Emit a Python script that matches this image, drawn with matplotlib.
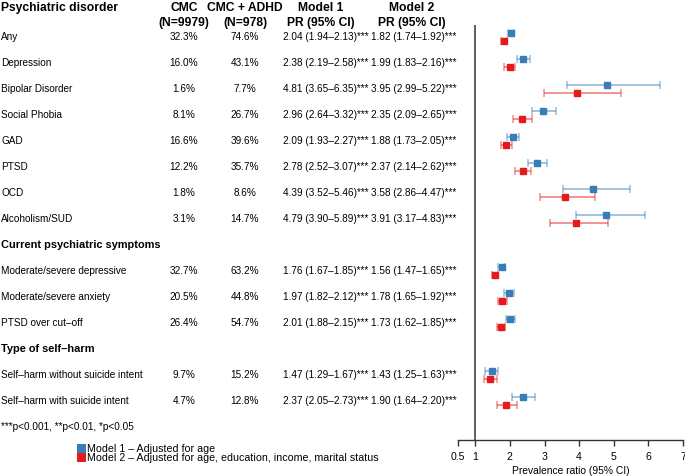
import matplotlib.pyplot as plt
import matplotlib.transforms as mtransforms
from matplotlib.patches import Rectangle

plt.rcParams['font.family'] = ['Liberation Sans', 'DejaVu Sans']

# sections of the table: header, then rows
sec1_title = "Psychiatric disorder"
sec1_labels = ["Any", "Depression", "Bipolar Disorder", "Social Phobia", "GAD", "PTSD", "OCD", "Alcoholism/SUD"]
sec1_cmc = ["32.3%", "16.0%", "1.6%", "8.1%", "16.6%", "12.2%", "1.8%", "3.1%"]
sec1_adhd = ["74.6%", "43.1%", "7.7%", "26.7%", "39.6%", "35.7%", "8.6%", "14.7%"]
sec1_m1 = [(2.04, 1.94, 2.13), (2.38, 2.19, 2.58), (4.81, 3.65, 6.35), (2.96, 2.64, 3.32),
           (2.09, 1.93, 2.27), (2.78, 2.52, 3.07), (4.39, 3.52, 5.46), (4.79, 3.90, 5.89)]
sec1_m2 = [(1.82, 1.74, 1.92), (1.99, 1.83, 2.16), (3.95, 2.99, 5.22), (2.35, 2.09, 2.65),
           (1.88, 1.73, 2.05), (2.37, 2.14, 2.62), (3.58, 2.86, 4.47), (3.91, 3.17, 4.83)]

sec2_title = "Current psychiatric symptoms"
sec2_labels = ["Moderate/severe depressive", "Moderate/severe anxiety", "PTSD over cut\u2013off"]
sec2_cmc = ["32.7%", "20.5%", "26.4%"]
sec2_adhd = ["63.2%", "44.8%", "54.7%"]
sec2_m1 = [(1.76, 1.67, 1.85), (1.97, 1.82, 2.12), (2.01, 1.88, 2.15)]
sec2_m2 = [(1.56, 1.47, 1.65), (1.78, 1.65, 1.92), (1.73, 1.62, 1.85)]

sec3_title = "Type of self\u2013harm"
sec3_labels = ["Self\u2013harm without suicide intent", "Self\u2013harm with suicide intent"]
sec3_cmc = ["9.7%", "4.7%"]
sec3_adhd = ["15.2%", "12.8%"]
sec3_m1 = [(1.47, 1.29, 1.67), (2.37, 2.05, 2.73)]
sec3_m2 = [(1.43, 1.25, 1.63), (1.90, 1.64, 2.20)]

xticks = [0.5, 1, 2, 3, 4, 5, 6, 7]
xticklabels = ["0.5", "1", "2", "3", "4", "5", "6", "7"]

blue = '#377EB8'
red = '#E41A1C'
W, H = 685, 476
fs = 7.2
fh = 8.7

fig = plt.figure(figsize=(W / 100, H / 100), dpi=100)
ax = fig.add_axes([458 / W, (H - 440) / H, 225 / W, 440 / H])
row0, step = 37, 26.0
ax.set_ylim((440 - row0) / step, -row0 / step)
ax.set_xlim(0.5, 7)

tr = mtransforms.blended_transform_factory(fig.transFigure, ax.transData)
def px(x):
    return x / W

x_lab, x_cmc, x_adhd, x_m1, x_m2 = 1, 184, 245, 283, 371

# column headers
yh1, yh2 = (8 - row0) / step, (23 - row0) / step
hdr = dict(transform=tr, va='center', fontsize=fh, fontweight='bold')
ax.text(px(x_lab), yh1, sec1_title, ha='left', **hdr)
ax.text(px(x_cmc), yh1, "CMC", ha='center', **hdr)
ax.text(px(x_cmc), yh2, "(N=9979)", ha='center', **hdr)
ax.text(px(x_adhd), yh1, "CMC + ADHD", ha='center', **hdr)
ax.text(px(x_adhd), yh2, "(N=978)", ha='center', **hdr)
ax.text(px(321), yh1, "Model 1", ha='center', **hdr)
ax.text(px(321), yh2, "PR (95% CI)", ha='center', **hdr)
ax.text(px(412), yh1, "Model 2", ha='center', **hdr)
ax.text(px(412), yh2, "PR (95% CI)", ha='center', **hdr)

sections = [
    (None, sec1_labels, sec1_cmc, sec1_adhd, sec1_m1, sec1_m2),
    (sec2_title, sec2_labels, sec2_cmc, sec2_adhd, sec2_m1, sec2_m2),
    (sec3_title, sec3_labels, sec3_cmc, sec3_adhd, sec3_m1, sec3_m2),
]

def ci_text(v):
    return f"{v[0]:.2f} ({v[1]:.2f}\u2013{v[2]:.2f})***"

r = 0
for title, labels, cmc, adhd, m1, m2 in sections:
    if title is not None:
        ax.text(px(x_lab), r, title, transform=tr, ha='left', va='center', fontsize=7.9, fontweight='bold')
        r += 1
    for i in range(len(labels)):
        ax.text(px(x_lab), r, labels[i], transform=tr, ha='left', va='center', fontsize=fs)
        ax.text(px(x_cmc), r, cmc[i], transform=tr, ha='center', va='center', fontsize=fs)
        ax.text(px(x_adhd), r, adhd[i], transform=tr, ha='center', va='center', fontsize=fs)
        ax.text(px(x_m1), r, ci_text(m1[i]), transform=tr, ha='left', va='center', fontsize=fs)
        ax.text(px(x_m2), r, ci_text(m2[i]), transform=tr, ha='left', va='center', fontsize=fs)
        for v, dy, c in [(m1[i], -0.16, blue), (m2[i], 0.16, red)]:
            ax.errorbar(v[0], r + dy, xerr=[[v[0] - v[1]], [v[2] - v[0]]], fmt='none',
                        ecolor=c, alpha=0.5, elinewidth=1.3, capsize=2.6, capthick=1.1)
            ax.plot(v[0], r + dy, 's', color=c, ms=4.8, mec=c)
        r += 1

# footnote
ax.text(px(x_lab), r, "***p<0.001, **p<0.01, *p<0.05", transform=tr, ha='left', va='center', fontsize=fs)

# reference line at 1
ax.vlines(1, (25 - row0) / step, (440 - row0) / step, color='#333333', lw=1.1)

for s in ['top', 'right', 'left']:
    ax.spines[s].set_visible(False)
ax.spines['bottom'].set_color('#333333')
ax.spines['bottom'].set_linewidth(1.0)
ax.set_yticks([])
ax.set_xticks(xticks)
ax.set_xticklabels(xticklabels, fontsize=7.6)
ax.tick_params(axis='x', direction='out', length=4, width=1.0, color='#333333', pad=5)
ax.set_xlabel("Prevalence ratio (95% CI)", fontsize=7.4, labelpad=2.5)

# legend
fig.add_artist(Rectangle((77 / W, 1 - 453 / H), 9 / W, 9 / H, transform=fig.transFigure, color=blue, lw=0))
fig.add_artist(Rectangle((77 / W, 1 - 462 / H), 9 / W, 9 / H, transform=fig.transFigure, color=red, lw=0))
fig.text(87 / W, 1 - 449 / H, "Model 1 \u2013 Adjusted for age", ha='left', va='center', fontsize=7.7)
fig.text(87 / W, 1 - 458 / H, "Model 2 \u2013 Adjusted for age, education, income, marital status",
         ha='left', va='center', fontsize=7.7)

fig.savefig('out.png', dpi=100)
